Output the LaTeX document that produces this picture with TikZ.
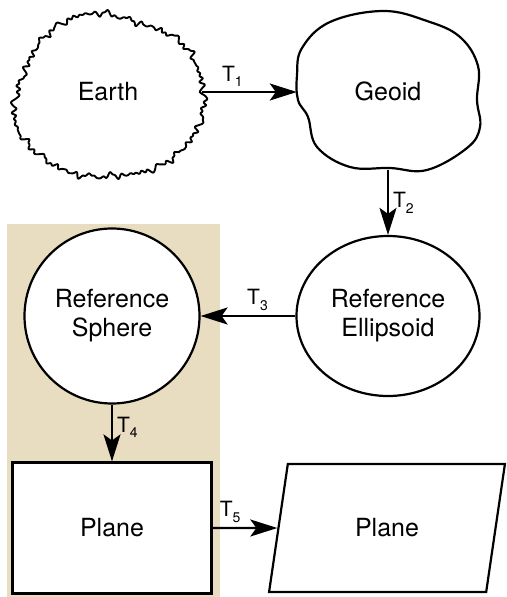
\documentclass[tikz,border=0pt]{standalone}
\usepackage{fontspec}
\setmainfont{TeX Gyre Heros}
\usetikzlibrary{shapes.geometric,arrows.meta}
\definecolor{sand}{RGB}{232,220,193}
\newcommand{\tlabel}[1]{T\raisebox{-0.28em}{\fontsize{14}{14}\selectfont #1}}

\begin{document}
\begin{tikzpicture}[x=1pt,y=-1pt,
    every node/.style={font=\fontsize{25}{29}\selectfont,align=center},
    stage/.style={draw,line width=2.2pt,fill=white,inner sep=0pt},
    link/.style={line width=2.2pt,-{Stealth[length=27pt,width=17pt,inset=6pt]}},
    tname/.style={font=\fontsize{21}{21}\selectfont,inner sep=4pt},
    % ragged radius factor, \t runs over 0..36 (tens of degrees)
    declare function={
      lump(\t)=0.03*sin(20*\t+100)+0.025*sin(30*\t+40)+0.02*sin(40*\t+200)
        +0.012*sin(50*\t+300)+0.01*sin(70*\t+20);
      grit(\t)=0.012*sin(mod(23*\t,36)*10+50)+0.014*sin(mod(31*\t,36)*10)
        +0.012*sin(mod(47*\t,36)*10+70)+0.01*sin(mod(59*\t,36)*10+130)
        +0.009*sin(mod(83*\t,36)*10+15)+0.007*sin(mod(101*\t,36)*10+240);
      rag(\t)=1+lump(\t)+grit(\t);}]
  \useasboundingbox (0,0) rectangle (506,597);

  % shaded block behind the sphere and the flat plane
  \fill[sand] (7,224) rectangle (220,597);

  % rough outline of the Earth
  \draw[line width=1.9pt,line join=round]
    plot[domain=0:36,samples=721]
      ({109+92*cos(10*\x)*rag(\x)},{97+84*sin(10*\x)*rag(\x)}) -- cycle;
  \node[minimum width=188pt,minimum height=160pt] (earth) at (108,92) {Earth};

  % smoother outline of the geoid
  \draw[line width=2.2pt]
    plot[smooth cycle,tension=0.65] coordinates {
      (383,11) (427,21) (460,37) (478,66) (477,100) (480,127) (467,148)
      (427,170) (390,168) (350,167) (317,147) (308,117) (298,100) (297,75)
      (302,48) (330,22)};
  \node[minimum width=182pt,minimum height=158pt] (geoid) at (388,91) {Geoid};

  \node[stage,ellipse,minimum width=183pt,minimum height=160pt] (ellipsoid) at (388,316) {Reference\\Ellipsoid};
  \node[stage,circle,minimum size=175pt] (sphere) at (112,316) {Reference\\Sphere};
  \node[stage,rectangle,minimum width=199pt,minimum height=131pt] (flat) at (112,528) {Plane};
  \node[stage,trapezium,trapezium left angle=72,trapezium right angle=108,
        trapezium stretches=true,minimum width=237pt,minimum height=128pt] (mapped) at (387,528) {Plane};

  \draw[link] (earth.east) -- (earth.east -| geoid.west) node[tname,above,pos=0.32] {\tlabel{1}};
  \draw[link] (geoid.south) -- (ellipsoid.north) node[tname,right,midway] {\tlabel{2}};
  \draw[link] (ellipsoid) -- (sphere) node[tname,above,pos=0.4] {\tlabel{3}};
  \draw[link] (sphere) -- (flat) node[tname,right,pos=0.4] {\tlabel{4}};
  \draw[link] (flat) -- (mapped) node[tname,above,pos=0.27] {\tlabel{5}};
\end{tikzpicture}
\end{document}
